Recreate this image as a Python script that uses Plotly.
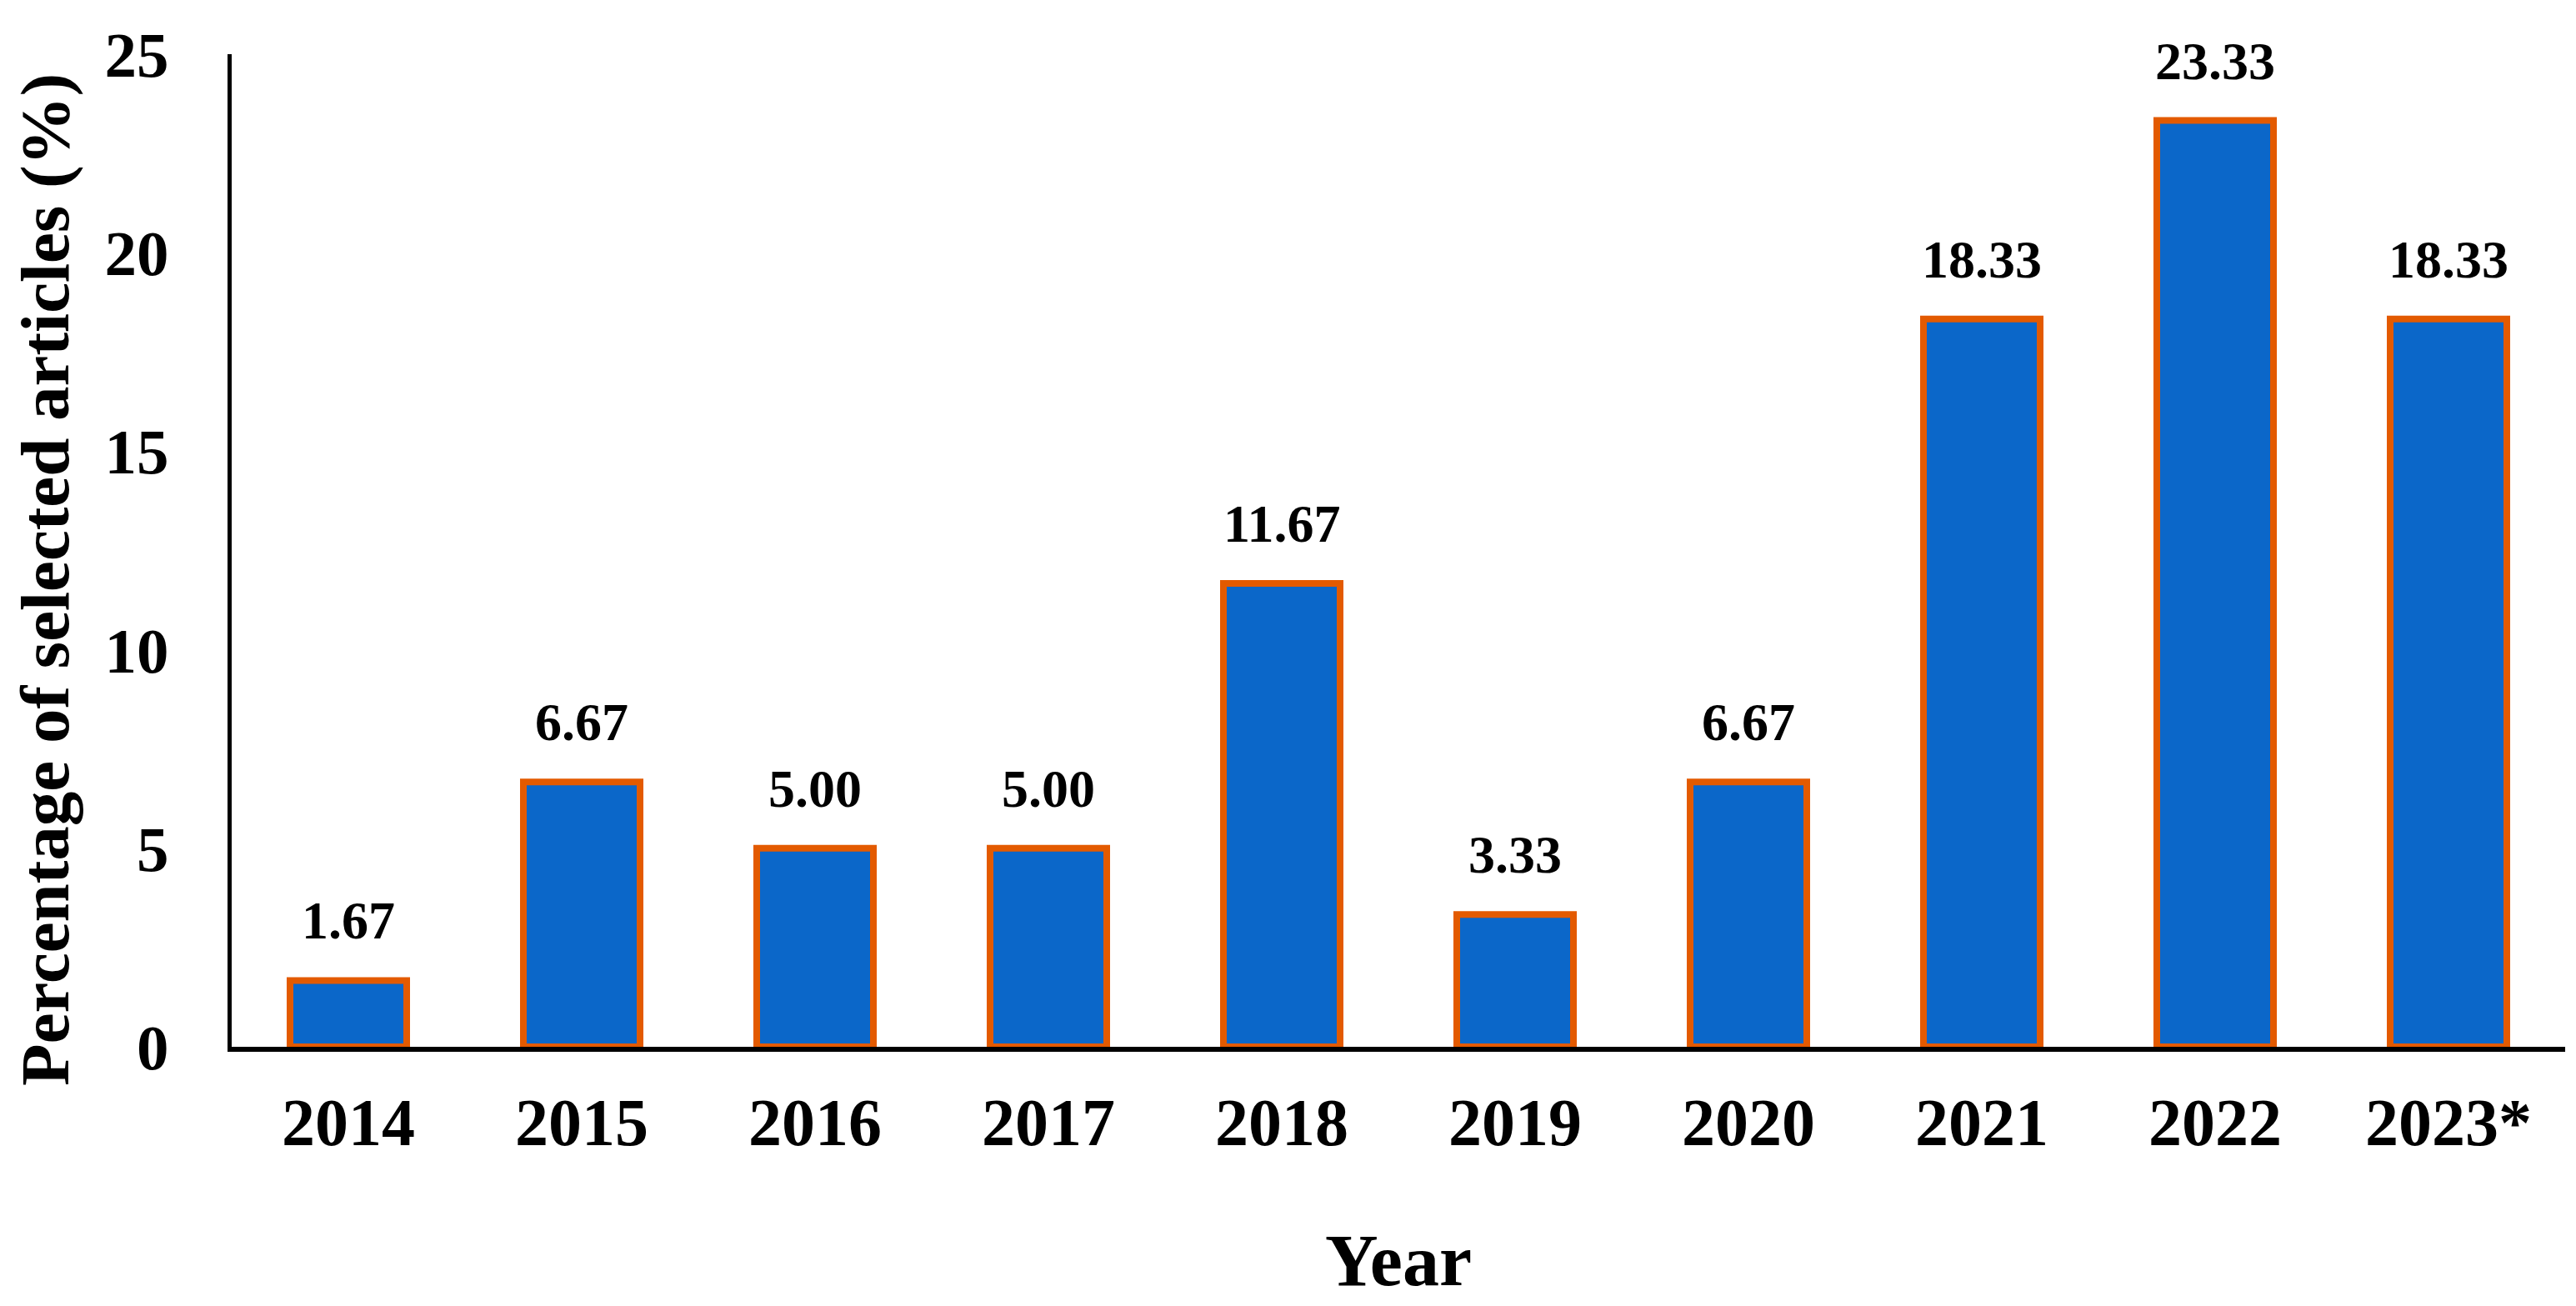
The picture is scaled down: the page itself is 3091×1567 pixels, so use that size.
import plotly.graph_objects as go

years = ["2014", "2015", "2016", "2017", "2018", "2019", "2020", "2021", "2022", "2023*"]
percent = [1.67, 6.67, 5.00, 5.00, 11.67, 3.33, 6.67, 18.33, 23.33, 18.33]
y_ticks = [0, 5, 10, 15, 20, 25]

FONT = "Liberation Serif"
BAR_BLUE = "#0B67C9"
EDGE = "#E35A00"

plot_l, plot_r, plot_t, plot_b = 270, 3070, 57, 1248
W, H = 3091, 1567

fig = go.Figure()
fig.add_trace(go.Bar(
    x=years, y=percent,
    width=0.5,
    marker=dict(color=BAR_BLUE, line=dict(color=EDGE, width=8)),
    showlegend=False,
))

for i, v in enumerate(percent):
    fig.add_annotation(
        x=i, y=v, xref="x", yref="y", text=f"{v:.2f}", showarrow=False,
        yanchor="bottom", yshift=34,
        font=dict(family=FONT, size=64, color="black", weight="bold"),
    )

# y-axis title placed as rotated annotation (pixel position converted to paper coords)
title_x_px, title_y_px = 46, 688
fig.add_annotation(
    x=(title_x_px - plot_l) / (plot_r - plot_l),
    y=(plot_b - title_y_px) / (plot_b - plot_t),
    xref="paper", yref="paper", text="Percentage of selected articles (%)",
    showarrow=False, textangle=-90, xanchor="center", yanchor="middle",
    font=dict(family=FONT, size=83, color="black", weight="bold"),
)

fig.update_layout(
    width=W, height=H,
    margin=dict(l=plot_l, r=W - plot_r, t=plot_t, b=H - plot_b),
    paper_bgcolor="white", plot_bgcolor="white",
    font=dict(family=FONT, color="black"),
    bargap=0.5,
)
fig.update_xaxes(
    type="category", range=[-0.5, 9.5],
    showline=True, linecolor="black", linewidth=6,
    ticks="", showgrid=False,
    tickfont=dict(family=FONT, size=80, color="black", weight="bold"),
    ticklabelstandoff=16,
    title=dict(text="Year", font=dict(family=FONT, size=88, color="black", weight="bold"), standoff=92),
)
fig.update_yaxes(
    range=[0, 25], tickvals=y_ticks,
    showline=True, linecolor="black", linewidth=5,
    ticks="", showgrid=False, zeroline=False,
    tickfont=dict(family=FONT, size=77, color="black", weight="bold"),
    ticklabelstandoff=55,
)

fig.write_html("out.html")
